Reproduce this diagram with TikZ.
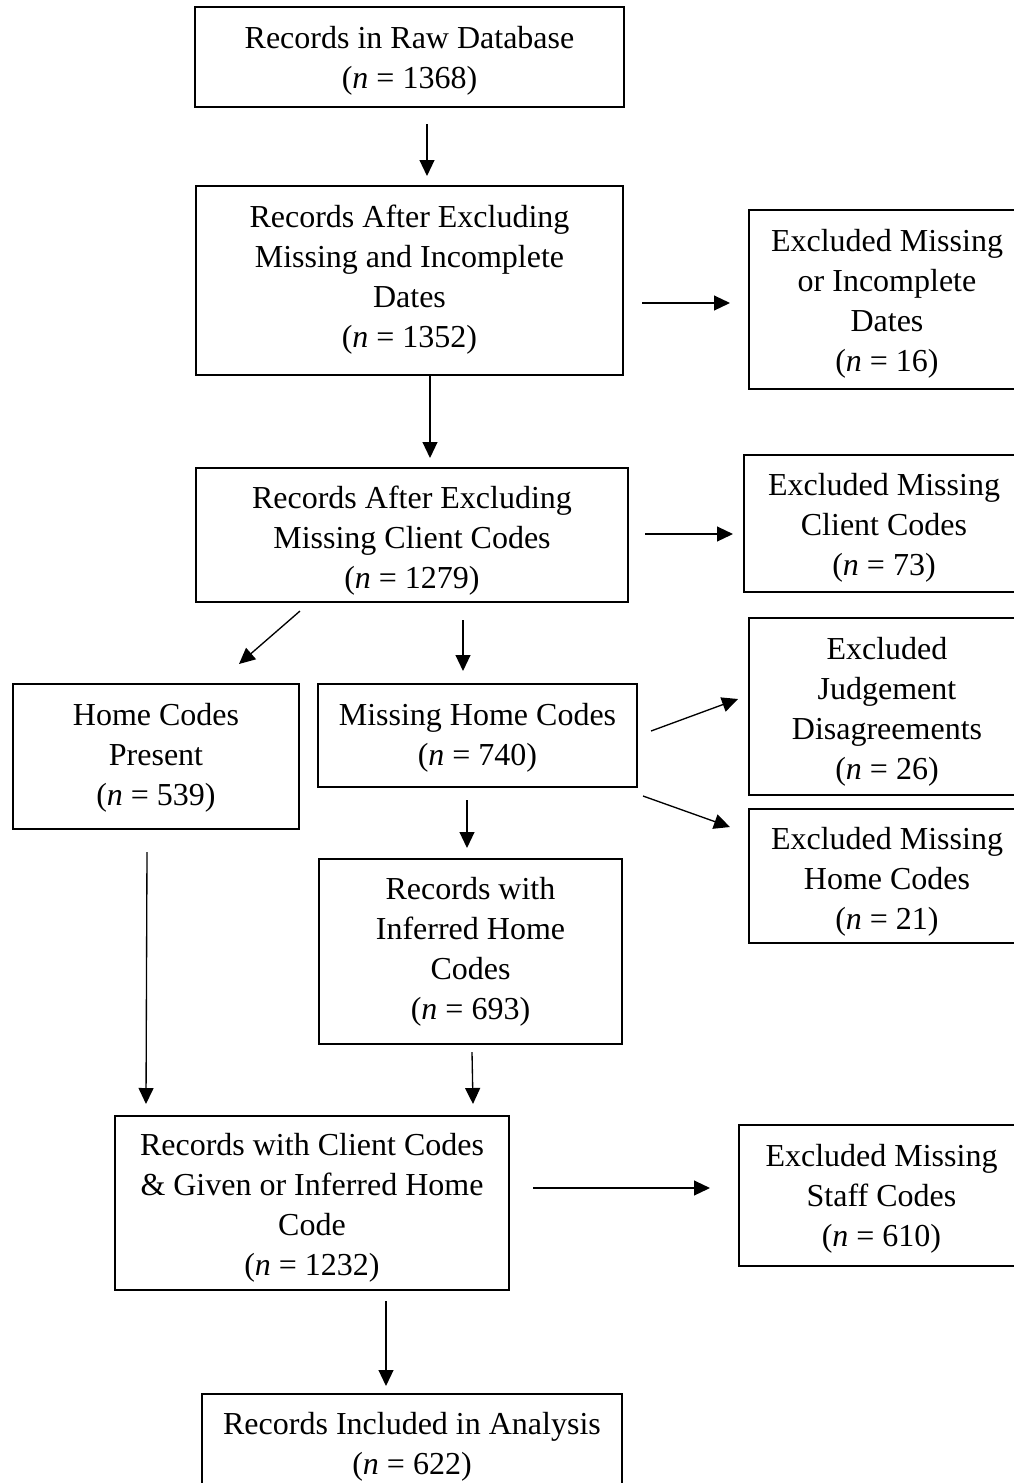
\documentclass[tikz,border=0pt]{standalone}
\usepackage{fontspec}
\setmainfont{Liberation Serif}
\usetikzlibrary{arrows.meta}
\tikzset{
  box/.style={draw, line width=0.75pt, inner sep=0pt, anchor=north west},
  txt/.style={align=center, inner sep=0pt, font=\fontsize{12}{15}\selectfont},
  sz/.style n args={2}{minimum width=#1*0.375pt, minimum height=#2*0.375pt},
  arr/.style={-{Triangle[length=6pt,width=5.6pt]}, line width=0.5pt}
}
\begin{document}
\begin{tikzpicture}[x=0.375pt,y=-0.375pt]
\useasboundingbox (0,0) rectangle (1014,1483);
\clip (0,0) rectangle (1014,1483);

% frames of the flow
\node[box, sz={429}{100}] (raw)       at (194,6)    {};
\node[box, sz={427}{189}] (dates)     at (195,185)  {};
\node[box, sz={276}{179}] (excdates)  at (748,209)  {};
\node[box, sz={432}{134}] (client)    at (195,467)  {};
\node[box, sz={280}{137}] (excclient) at (743,454)  {};
\node[box, sz={286}{145}] (present)   at (12,683)   {};
\node[box, sz={319}{103}] (missing)   at (317,683)  {};
\node[box, sz={276}{177}] (judge)     at (748,617)  {};
\node[box, sz={276}{134}] (exchome)   at (748,808)  {};
\node[box, sz={303}{185}] (inferred)  at (318,858)  {};
\node[box, sz={394}{174}] (combined)  at (114,1115) {};
\node[box, sz={285}{141}] (staff)     at (738,1124) {};
\node[box, sz={420}{105}] (included)  at (201,1393) {};

% texts inside the frames
\node[txt] (raw-t) at ([yshift=-4*0.375pt]raw.center)
  {Records in Raw Database\\(\textit{n} = 1368)};
\node[txt] (dates-t) at ([yshift=1*0.375pt]dates.center)
  {Records After Excluding\\Missing and Incomplete\\Dates\\(\textit{n} = 1352)};
\node[txt] (excdates-t) at ([yshift=-4*0.375pt]excdates.center)
  {Excluded Missing\\or Incomplete\\Dates\\(\textit{n} = 16)};
\node[txt] (client-t) at ([yshift=-6*0.375pt]client.center)
  {Records After Excluding\\Missing Client Codes\\(\textit{n} = 1279)};
\node[txt] (excclient-t) at ([yshift=-4*0.375pt]excclient.center)
  {Excluded Missing\\Client Codes\\(\textit{n} = 73)};
\node[txt] (present-t) at ([yshift=-1*0.375pt]present.center)
  {Home Codes\\Present\\(\textit{n} = 539)};
\node[txt] (missing-t) at ([yshift=-2*0.375pt]missing.center)
  {Missing Home Codes\\(\textit{n} = 740)};
\node[txt] (judge-t) at ([yshift=-5*0.375pt]judge.center)
  {Excluded\\Judgement\\Disagreements\\(\textit{n} = 26)};
\node[txt] (exchome-t) at ([yshift=-6*0.375pt]exchome.center)
  {Excluded Missing\\Home Codes\\(\textit{n} = 21)};
\node[txt] (inferred-t) at (inferred.center)
  {Records with\\Inferred Home\\Codes\\(\textit{n} = 693)};
\node[txt] (combined-t) at ([yshift=-5*0.375pt]combined.center)
  {Records with Client Codes\\\& Given or Inferred Home\\Code\\(\textit{n} = 1232)};
\node[txt] (staff-t) at ([yshift=-3*0.375pt]staff.center)
  {Excluded Missing\\Staff Codes\\(\textit{n} = 610)};
\node[txt] (included-t) at (included.center)
  {Records Included in Analysis\\(\textit{n} = 622)};

% connectors
\draw[arr] ([shift={(17.5,16)}]raw.south) -- ([shift={(17.5,-9)}]dates.north);
\draw[arr] ([shift={(18,22.5)}]dates.east) -- ([shift={(-18,3.5)}]excdates.west);
\draw[arr] ([shift={(20.5,-2)}]dates.south) -- ([shift={(18,-9)}]client.north);
\draw[arr] ([shift={(16,-1)}]client.east) -- ([shift={(-10,10.5)}]excclient.west);
\draw[arr] ([shift={(-112,8)}]client.south) -- ([shift={(83,-19)}]present.north);
\draw[arr] ([shift={(51,17)}]client.south) -- ([shift={(-14.5,-12)}]missing.north);
\draw[arr] ([shift={(13,-4.5)}]missing.east) -- ([shift={(-10,-7.5)}]judge.west);
\draw[arr] ([shift={(5,8)}]missing.south east) -- ([shift={(-18,19)}]exchome.north west);
\draw[arr] ([shift={(-10.5,12)}]missing.south) -- ([shift={(-3.5,-10)}]inferred.north);
\draw[arr] ([shift={(-9,22)}]present.south) -- ([shift={(32,-11)}]combined.north west);
\draw[arr] ([shift={(1.5,7)}]inferred.south) -- ([shift={(-37,-11)}]combined.north east);
\draw[arr] ([shift={(23,-15)}]combined.east) -- ([shift={(-28,-7.5)}]staff.west);
\draw[arr] ([shift={(74,10)}]combined.south) -- ([shift={(-26,-7)}]included.north);
\end{tikzpicture}
\end{document}
